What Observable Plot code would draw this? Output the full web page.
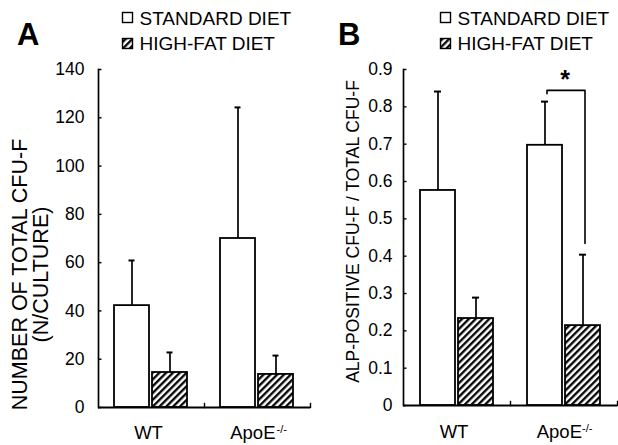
<!DOCTYPE html>
<html><head><meta charset="utf-8">
<script src="https://cdn.jsdelivr.net/npm/d3@7"></script>
<script src="https://cdn.jsdelivr.net/npm/@observablehq/plot@0.6"></script>
<style>
body{margin:0;background:#fff;}
#wrap{position:relative;width:618px;height:445px;overflow:hidden;background:#fff;}
#wrap svg{position:absolute;top:0;}
</style></head><body><div id="wrap"></div>
<script>
// ---- data ----
const groups = ["WT", "ApoE"];
const groupLabels = ["WT", "ApoE"];
const groupSup = ["", "-/-"];
const diets = ["STANDARD DIET", "HIGH-FAT DIET"];

const cfuStdMean = [42.2, 70.0];
const cfuStdSD   = [18.7, 54.3];
const cfuHfMean  = [14.5, 13.7];
const cfuHfSD    = [8.3, 7.8];

const alpStdMean = [0.576, 0.697];
const alpStdSD   = [0.265, 0.117];
const alpHfMean  = [0.233, 0.214];
const alpHfSD    = [0.056, 0.190];

const yTicksA = [0, 20, 40, 60, 80, 100, 120, 140];
const yTicksB = [0, 0.1, 0.2, 0.3, 0.4, 0.5, 0.6, 0.7, 0.8, 0.9];
const yLabelA = "NUMBER OF TOTAL CFU-F\n(N/CULTURE)";
const yLabelB = "ALP-POSITIVE CFU-F / TOTAL CFU-F";

// significance bracket (panel B, ApoE group)
const sigGroup = "ApoE";
const sigLeftEnd = 0.835, sigTop = 0.844, sigRightEnd = 0.434, sigStar = 0.872;

const FONT = "'Liberation Sans', Arial, Helvetica, sans-serif";

function rowsOf(stdM, stdS, hfM, hfS) {
  const out = [];
  groups.forEach((g, i) => {
    out.push({group: g, diet: diets[0], mean: stdM[i], sd: stdS[i]});
    out.push({group: g, diet: diets[1], mean: hfM[i], sd: hfS[i]});
  });
  return out;
}
const rowsA = rowsOf(cfuStdMean, cfuStdSD, cfuHfMean, cfuHfSD);
const rowsB = rowsOf(alpStdMean, alpStdSD, alpHfMean, alpHfSD);

function panel(o) {
  const frameH = 445 - 69 - o.marginBottom;
  const facetW = (o.width - o.marginLeft - o.marginRight) / groups.length;
  const labelRows = groups.map((g, i) => ({group: g, label: groupLabels[i], sup: groupSup[i]}));
  return Plot.plot({
    width: o.width, height: 445,
    marginLeft: o.marginLeft, marginRight: o.marginRight, marginTop: 69, marginBottom: o.marginBottom,
    style: {fontFamily: FONT, color: "#000", background: "transparent", overflow: "visible"},
    fx: {domain: groups, padding: 0, axis: null},
    x: {domain: diets, paddingInner: o.pi, paddingOuter: o.po, axis: null},
    y: {domain: o.yDomain, axis: null},
    marks: [
      Plot.axisY(o.yTicks, {anchor: "left", tickSize: 0, tickPadding: o.tickPadding, tickFormat: o.yFormat,
        fontSize: 17.5, label: null}),
      Plot.tickY(o.yTicks, {y: d => d, facetAnchor: "left", insetRight: facetW - 4, stroke: "#000", strokeWidth: 1.4}),
      Plot.frame({anchor: "left", facetAnchor: "left", stroke: "#000", strokeWidth: 1.7}),
      Plot.ruleX(o.rows, {fx: "group", x: "diet", y1: "mean", y2: d => d.mean + d.sd, stroke: "#000", strokeWidth: 1.7}),
      Plot.tickY(o.rows, {fx: "group", x: "diet", y: d => d.mean + d.sd, insetLeft: o.capInset, insetRight: o.capInset, stroke: "#000", strokeWidth: 2}),
      Plot.barY(o.rows.filter(d => d.diet === diets[0]), {fx: "group", x: "diet", y: "mean", fill: "white", stroke: "#000", strokeWidth: 1.8}),
      Plot.barY(o.rows.filter(d => d.diet === diets[1]), {fx: "group", x: "diet", y: "mean", fill: "url(#hatch)", stroke: "#000", strokeWidth: 1.8}),
      Plot.ruleY([0], {stroke: "#000", strokeWidth: 1.8}),
      Plot.frame({anchor: "right", insetTop: frameH - 4, stroke: "#000", strokeWidth: 1.4}),
      Plot.text(labelRows, {fx: "group", text: "label", frameAnchor: "bottom", dy: o.labelDy,
        lineAnchor: "bottom", fontSize: 18.5, textAnchor: "middle"}),
      Plot.text(labelRows.filter(d => d.sup), {fx: "group", text: "sup", frameAnchor: "bottom", dy: o.labelDy - 6, dx: o.supDx,
        lineAnchor: "bottom", textAnchor: "start", fontSize: 11}),
      ...(o.extra || [])
    ]
  });
}

const wrap = document.getElementById("wrap");

function addDefs(svg) {
  const s = d3.select(svg);
  const defs = s.insert("defs", ":first-child");
  const w = 4.8;
  const p = defs.append("pattern").attr("id", "hatch").attr("patternUnits", "userSpaceOnUse")
    .attr("width", w).attr("height", w).attr("patternTransform", "rotate(45)");
  p.append("rect").attr("width", w).attr("height", w).attr("fill", "#fff");
  p.append("line").attr("x1", 1.2).attr("y1", -1).attr("x2", 1.2).attr("y2", w + 1).attr("stroke", "#000").attr("stroke-width", 2.3);
}

function addLegend(svg, x0, letter, letterX) {
  const s = d3.select(svg).append("g").attr("font-family", FONT).attr("fill", "#000").attr("text-anchor", "start");
  s.append("text").attr("x", letterX).attr("y", 45).attr("font-size", 31).attr("font-weight", "bold").attr("text-anchor", "start").text(letter);
  s.append("rect").attr("x", x0).attr("y", 12.5).attr("width", 10).attr("height", 10)
    .attr("fill", "#fff").attr("stroke", "#000").attr("stroke-width", 1.4);
  s.append("rect").attr("x", x0).attr("y", 38.5).attr("width", 10).attr("height", 10)
    .attr("fill", "url(#hatch)").attr("stroke", "#000").attr("stroke-width", 1.4);
  s.append("text").attr("x", x0 + 17).attr("y", 25).attr("font-size", 19).attr("text-anchor", "start").text(diets[0]);
  s.append("text").attr("x", x0 + 17).attr("y", 50).attr("font-size", 19).attr("text-anchor", "start").text(diets[1]);
}

const extraA = [
  Plot.text([yLabelA], {fx: () => groups[0], text: d => d, frameAnchor: "left", rotate: -90, dx: -68, dy: 36,
    fontSize: 21.5, lineHeight: 1.02, textAnchor: "middle", lineAnchor: "middle"})
];

const svgA = panel({
  rows: rowsA, width: 310, marginLeft: 97, marginRight: 0, marginBottom: 38,
  yDomain: [0, 140], yTicks: yTicksA, yFormat: d => String(d), tickPadding: 14,
  pi: 0.077, po: 0.404, capInset: 14.5, labelDy: 31, supDx: 19, extra: extraA
});

const sigRows = [
  {diet: diets[0], y: sigLeftEnd}, {diet: diets[0], y: sigTop},
  {diet: diets[1], y: sigTop}, {diet: diets[1], y: sigRightEnd}
];
const extraB = [
  Plot.line(sigRows, {fx: () => sigGroup, x: "diet", y: "y", stroke: "#000", strokeWidth: 1.6, dx: 2}),
  Plot.text(["*"], {fx: () => sigGroup, x: () => diets[1], y: () => sigStar, text: d => d, dx: -18, fontSize: 25, fontWeight: "bold", lineAnchor: "middle"}),
  Plot.text([yLabelB], {fx: () => groups[0], text: d => d, frameAnchor: "left", rotate: -90, dx: -50, dy: -6,
    fontSize: 17.5, textAnchor: "middle", lineAnchor: "middle"})
];

const svgB = panel({
  rows: rowsB, width: 308, marginLeft: 92, marginRight: 1, marginBottom: 40,
  yDomain: [0, 0.9], yTicks: yTicksB, yFormat: d => d === 0 ? "0" : d.toFixed(1), tickPadding: 11,
  pi: 0.09, po: 0.441, capInset: 14, labelDy: 32, supDx: 18, extra: extraB
});

// "ApoE" + superscript: anchor the main word at its end so the pair sits like the reference
[svgA, svgB].forEach(svg => {
  d3.select(svg).selectAll("text").filter(function() { return this.textContent === groupLabels[1]; })
    .attr("text-anchor", "end").attr("dx", 18);
  d3.select(svg).selectAll("text").filter(function() { return this.textContent === groupLabels[0]; })
    .attr("dx", -3);
});

addDefs(svgA); addDefs(svgB);
addLegend(svgA, 122.5, "A", 17);
addLegend(svgB, 130.5, "B", 28);

svgA.style.left = "0px";
svgB.style.left = "310px";
wrap.appendChild(svgA);
wrap.appendChild(svgB);
</script></body></html>
